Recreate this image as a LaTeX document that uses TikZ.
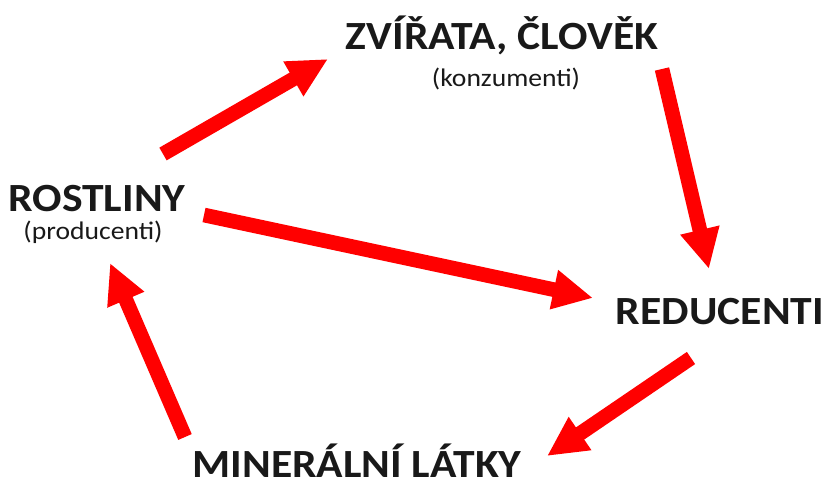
\documentclass[tikz,border=0pt]{standalone}
\usepackage{fontspec}
\setmainfont{Carlito}[FakeStretch=1.09]
\usetikzlibrary{arrows.meta}

\begin{document}
\begin{tikzpicture}[
  x=0.75pt, y=-0.75pt,
  title/.style={font=\bfseries\fontsize{30}{32}\selectfont, anchor=base, inner sep=0pt, text=black!90},
  role/.style={font=\fontsize{19}{21}\selectfont, anchor=base, inner sep=0pt, text=black!90},
  flow/.style={draw=red, line width=11pt, -{Triangle[length=30pt,width=28pt]}}
]
\useasboundingbox (0,0) rectangle (825,481);

% Producers
\node[title] (rostliny) at (97,212) {ROSTLINY};
\node[role] (producenti) at (93,239) {(producenti)};

% Consumers
\node[title] (zvirata) at (502,50) {ZVÍŘATA, ČLOVĚK};
\node[role] (konzumenti) at (506,87) {(konzumenti)};

% Decomposers
\node[title] (reducenti) at (720,324) {REDUCENTI};

% Minerals
\node[title] (mineralni) at (357,477) {MINERÁLNÍ LÁTKY};

% Arrow ends
\coordinate (r1) at (163,154);
\coordinate (z1) at (328,59);
\coordinate (z2) at (662,69);
\coordinate (d1) at (709,269);
\coordinate (r2) at (204,215);
\coordinate (d2) at (593,298);
\coordinate (d3) at (691,358);
\coordinate (m1) at (547,456);
\coordinate (m2) at (185,437);
\coordinate (r3) at (110,263);

% Cycle
\draw[flow] (r1) -- (z1);
\draw[flow] (z2) -- (d1);
\draw[flow] (r2) -- (d2);
\draw[flow] (d3) -- (m1);
\draw[flow] (m2) -- (r3);
\end{tikzpicture}
\end{document}
